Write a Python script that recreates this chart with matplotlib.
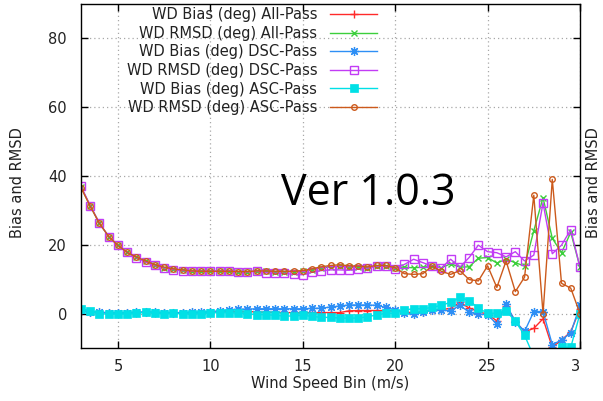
import matplotlib
matplotlib.use("Agg")
import matplotlib.pyplot as plt

# Wind speed bin centres (m/s)
wind_bins = [3.0, 3.5, 4.0, 4.5, 5.0, 5.5, 6.0, 6.5, 7.0, 7.5,
             8.0, 8.5, 9.0, 9.5, 10.0, 10.5, 11.0, 11.5, 12.0, 12.5,
             13.0, 13.5, 14.0, 14.5, 15.0, 15.5, 16.0, 16.5, 17.0, 17.5,
             18.0, 18.5, 19.0, 19.5, 20.0, 20.5, 21.0, 21.5, 22.0, 22.5,
             23.0, 23.5, 24.0, 24.5, 25.0, 25.5, 26.0, 26.5, 27.0, 27.5,
             28.0, 28.5, 29.0, 29.5, 30.0]

bias_all = [0.8, 0.5, 0.3, 0.2, 0.2, 0.3, 0.3, 0.4, 0.3, 0.3,
            0.3, 0.2, 0.3, 0.3, 0.4, 0.5, 0.6, 0.6, 0.6, 0.5,
            0.4, 0.4, 0.3, 0.3, 0.3, 0.3, 0.3, 0.3, 0.3, 0.8,
            0.9, 0.9, 0.9, 0.9, 0.8, 0.5, 0.2, 0.6, 1.0, 1.2,
            1.5, 3.3, 1.6, 0.6, -0.2, -2.1, 2.3, -2.2, -5.3, -4.3,
            -1.5, -9.8, -7.7, -5.3, 1.4]

rmsd_all = [36.8, 31.3, 26.2, 22.4, 19.8, 17.8, 16.4, 15.2, 14.1, 13.4,
            12.9, 12.6, 12.4, 12.3, 12.3, 12.3, 12.3, 12.2, 12.2, 12.3,
            12.3, 12.2, 12.2, 12.2, 12.3, 12.8, 13.3, 13.6, 13.8, 13.6,
            13.6, 13.4, 13.8, 13.9, 13.4, 13.5, 13.3, 13.5, 13.8, 13.3,
            14.5, 13.5, 13.6, 16.1, 16.3, 14.7, 15.8, 14.8, 13.8, 24.1,
            33.7, 21.9, 17.7, 23.6, 13.5]

bias_dsc = [1.0, 0.5, 0.4, 0.3, 0.2, 0.3, 0.4, 0.5, 0.4, 0.3,
            0.3, 0.3, 0.4, 0.4, 0.6, 0.8, 1.1, 1.3, 1.3, 1.4,
            1.4, 1.4, 1.4, 1.4, 1.4, 1.5, 1.6, 1.9, 2.2, 2.5,
            2.5, 2.5, 2.4, 1.8, 1.1, 0.3, -0.2, 0.4, 1.1, 1.0,
            0.8, 2.4, 0.4, -0.2, -0.3, -3.1, 2.7, -2.3, -5.2, 0.6,
            0.6, -9.0, -7.7, -5.6, 2.4]

rmsd_dsc = [37.0, 31.4, 26.3, 22.4, 19.8, 17.8, 16.3, 15.0, 14.0, 13.3,
            12.8, 12.5, 12.3, 12.3, 12.3, 12.3, 12.4, 12.2, 12.1, 12.3,
            11.9, 11.7, 11.7, 11.4, 11.3, 12.0, 12.5, 12.7, 12.7, 12.6,
            12.9, 13.2, 13.8, 13.8, 13.1, 14.3, 15.8, 14.8, 13.8, 13.3,
            15.8, 13.5, 16.3, 19.9, 18.0, 17.7, 16.5, 18.0, 15.3, 17.0,
            32.2, 17.4, 19.9, 24.4, 13.5]

bias_asc = [1.3, 0.9, 0.0, -0.2, -0.1, -0.1, 0.1, 0.4, 0.2, 0.0,
            0.1, -0.1, 0.0, 0.0, 0.2, 0.3, 0.3, 0.1, 0.0, -0.3,
            -0.3, -0.5, -0.7, -0.7, -0.5, -0.8, -1.1, -1.1, -1.3, -1.3,
            -1.3, -0.9, -0.4, 0.1, 0.1, 1.1, 1.4, 1.4, 1.8, 2.4,
            3.3, 4.7, 3.8, 1.6, 0.1, 0.1, 0.8, -2.2, -6.3, -12.5,
            -20.0, -14.0, -9.8, -9.8, 0.0]

rmsd_asc = [36.6, 31.2, 26.2, 22.4, 19.8, 17.8, 16.4, 15.3, 14.2, 13.5,
            13.0, 12.7, 12.4, 12.3, 12.3, 12.3, 12.3, 12.2, 12.2, 12.4,
            12.4, 12.3, 12.3, 12.3, 12.5, 13.0, 13.6, 14.0, 14.2, 13.9,
            13.8, 13.6, 14.0, 14.0, 13.3, 11.6, 11.4, 11.6, 13.8, 12.3,
            11.4, 12.5, 9.9, 9.5, 13.9, 7.6, 15.3, 6.4, 10.6, 34.4,
            0.0, 39.0, 8.8, 7.4, 0.0]

series = [
    ("WD Bias (deg) All-Pass", bias_all, "#ff2a2a",
     dict(marker="+", markersize=5.5, markeredgewidth=1.0)),
    ("WD RMSD (deg) All-Pass", rmsd_all, "#3ccf3c",
     dict(marker="x", markersize=4.5, markeredgewidth=1.0)),
    ("WD Bias (deg) DSC-Pass", bias_dsc, "#2e8ff5",
     dict(marker=(8, 2, 0), markersize=6.5, markeredgewidth=0.9)),
    ("WD RMSD (deg) DSC-Pass", rmsd_dsc, "#c23cf5",
     dict(marker="s", markersize=5.5, markeredgewidth=1.0,
          markerfacecolor="none")),
    ("WD Bias (deg) ASC-Pass", bias_asc, "#00e0e6",
     dict(marker="s", markersize=5.5, markeredgewidth=0.5)),
    ("WD RMSD (deg) ASC-Pass", rmsd_asc, "#cc5a1c",
     dict(marker="o", markersize=4.0, markeredgewidth=1.0,
          markerfacecolor="none")),
]

x_ticks = [5, 10, 15, 20, 25, 30]
x_tick_labels = ["5", "10", "15", "20", "25", "3"]
y_ticks = [0, 20, 40, 60, 80]

W, H = 603, 401
fig = plt.figure(figsize=(W / 100, H / 100), dpi=100)
ax = fig.add_axes([81 / W, 1 - 348 / H, (580 - 81) / W, (348 - 4) / H])

for label, values, color, style in series:
    ax.plot(wind_bins, values, color=color, linewidth=1.0, label=label, **style)

ax.set_xlim(3, 30)
ax.set_ylim(-10, 90)
ax.set_xticks(x_ticks)
ax.set_xticklabels(x_tick_labels)
ax.set_yticks(y_ticks)
ax.get_xticklabels()[-1].set_ha("right")

ax.grid(True, color="#a8a8a8", linestyle=(0, (1.0, 2.4)), linewidth=0.9)
ax.tick_params(axis="both", direction="in", length=5, width=1.0,
               top=True, right=True, labelsize=10.5, colors="black",
               labelcolor="#222222")
ax.tick_params(axis="x", pad=8)
ax.tick_params(axis="y", pad=10)
for sp in ax.spines.values():
    sp.set_linewidth(1.0)
    sp.set_color("black")

ax.set_xlabel("Wind Speed Bin (m/s)", fontsize=10.5, color="#222222")
ax.xaxis.set_label_coords((330 - 81) / 499, (348 - 376) / 344)
ax.set_ylabel("Bias and RMSD", fontsize=10.5, color="#222222")
ax.yaxis.set_label_coords((25 - 81) / 499, (348 - 183) / 344)

fig.text(594 / W, 1 - 183 / H, "Bias and RMSD", rotation=90,
         ha="center", va="center", fontsize=10.5, color="#222222")

fig.text(368 / W, 1 - 205 / H, "Ver 1.0.3", ha="center", va="baseline",
         fontsize=31, family="Open Sans", color="black")

leg = ax.legend(loc="upper right", bbox_to_anchor=(377 / W, 1 - 7 / H),
                bbox_transform=fig.transFigure, frameon=False,
                markerfirst=False, numpoints=1, fontsize=10.5,
                handlelength=3.2, handletextpad=0.9, labelspacing=0.25,
                borderpad=0, borderaxespad=0)
for t in leg.get_texts():
    t.set_color("#222222")

fig.savefig("out.png", dpi=100)
